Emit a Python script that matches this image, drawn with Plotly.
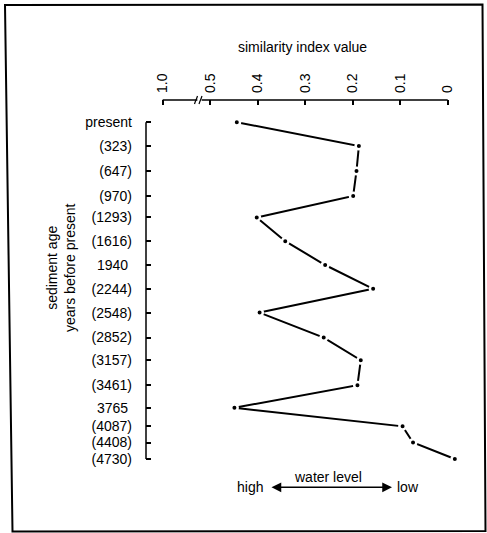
import plotly.graph_objects as go

# ---- data ----
age_labels = ["present", "(323)", "(647)", "(970)", "(1293)", "(1616)", "1940\u00a0",
              "(2244)", "(2548)", "(2852)", "(3157)", "(3461)", "3765\u00a0",
              "(4087)", "(4408)", "(4730)"]
sample_depth = [0, 10, 20.5, 31, 40, 50, 60, 70, 80, 90.5, 100, 110.5, 120, 127.8, 134.6, 141.5]
similarity = [0.444, 0.187, 0.192, 0.199, 0.402, 0.342, 0.258, 0.157, 0.396, 0.261,
              0.183, 0.190, 0.449, 0.095, 0.073, -0.015]
x_tick_vals = [0.6, 0.5, 0.4, 0.3, 0.2, 0.1, 0.0]
x_tick_text = ["1.0", "0.5", "0.4", "0.3", "0.2", "0.1", "0"]

W, H = 487, 533
ML, MR, MT, MB = 146, 27, 100, 68
PW, PH = W - ML - MR, H - MT - MB
FONT = "Liberation Sans, Arial, Helvetica, sans-serif"


def px(x):
    return (x - ML) / PW


def py(y):
    return (H - MB - y) / PH


fig = go.Figure()
fig.add_trace(go.Scatter(
    x=similarity, y=sample_depth, mode="lines+markers",
    line=dict(color="black", width=2),
    marker=dict(color="black", size=6.5, line=dict(color="white", width=2.5)),
    cliponaxis=False, showlegend=False, hoverinfo="skip"))

shapes = []
# top axis line with break
shapes.append(dict(type="line", xref="x", yref="paper", x0=0.6, x1=0.527, y0=1, y1=1,
                   line=dict(color="black", width=1.5)))
shapes.append(dict(type="line", xref="x", yref="paper", x0=0.518, x1=0.0, y0=1, y1=1,
                   line=dict(color="black", width=1.5)))
for bx in (196, 200.5):
    shapes.append(dict(type="path", xref="paper", yref="paper",
                       path=f"M {px(bx-1.5)} {py(104)} Q {px(bx-0.5)} {py(101)} {px(bx)} {py(100)} "
                            f"Q {px(bx+0.5)} {py(99)} {px(bx+1.5)} {py(96)}",
                       line=dict(color="black", width=1.2)))
# left axis line
shapes.append(dict(type="line", xref="paper", yref="y", x0=0, x1=0,
                   y0=sample_depth[0], y1=sample_depth[-1], line=dict(color="black", width=1.5)))
# outer frame
shapes.append(dict(type="path", xref="paper", yref="paper",
                   path=f"M {px(5)} {py(5)} L {px(482.5)} {py(4.5)} L {px(485.5)} {py(531)} "
                        f"L {px(12.5)} {py(531.5)} Z",
                   line=dict(color="black", width=2)))

txt = dict(size=14, color="black", family=FONT)
annotations = [
    dict(text="similarity index value", x=px(302), y=py(47), xref="paper", yref="paper",
         xanchor="center", yanchor="middle", showarrow=False, font=txt),
    dict(text="sediment age<br>years before present", x=px(61), y=py(268), xref="paper",
         yref="paper", xanchor="center", yanchor="middle", showarrow=False, textangle=-90,
         font=txt),
    dict(text="water level", x=px(328), y=py(477), xref="paper", yref="paper",
         xanchor="center", yanchor="middle", showarrow=False, font=txt),
    dict(text="high", x=px(249.5), y=py(487), xref="paper", yref="paper",
         xanchor="center", yanchor="middle", showarrow=False, font=txt),
    dict(text="low", x=px(407.5), y=py(487), xref="paper", yref="paper",
         xanchor="center", yanchor="middle", showarrow=False, font=txt),
    dict(text="", xref="paper", yref="paper", axref="pixel", ayref="pixel",
         x=px(392), y=py(487.3), ax=-122, ay=0,
         showarrow=True, arrowside="end+start", arrowhead=2, arrowsize=1.3,
         arrowwidth=1.5, arrowcolor="black", standoff=0, startstandoff=0),
]

fig.update_layout(
    width=W, height=H, margin=dict(l=ML, r=MR, t=MT, b=MB, pad=0),
    paper_bgcolor="white", plot_bgcolor="white",
    font=dict(family=FONT, size=14, color="black"),
    shapes=shapes, annotations=annotations,
    xaxis=dict(side="top", range=[(447.7 - 146) / 475, (447.7 - 460) / 475],
               tickvals=x_tick_vals, ticktext=x_tick_text, tickangle=-90,
               ticks="inside", ticklen=5, tickwidth=1.5, tickcolor="black",
               showline=False, showgrid=False, zeroline=False, ticklabelstandoff=6,
               tickfont=txt),
    yaxis=dict(range=[(465 - 122.2) / 2.38, (100 - 122.2) / 2.38],
               tickvals=sample_depth, ticktext=age_labels,
               ticks="inside", ticklen=5, tickwidth=1.5, tickcolor="black",
               showline=False, showgrid=False, zeroline=False, ticklabelstandoff=13,
               tickfont=txt),
)

fig.write_html("out.html", config={"displayModeBar": False},
               post_script="document.body.style.margin='0px';")
